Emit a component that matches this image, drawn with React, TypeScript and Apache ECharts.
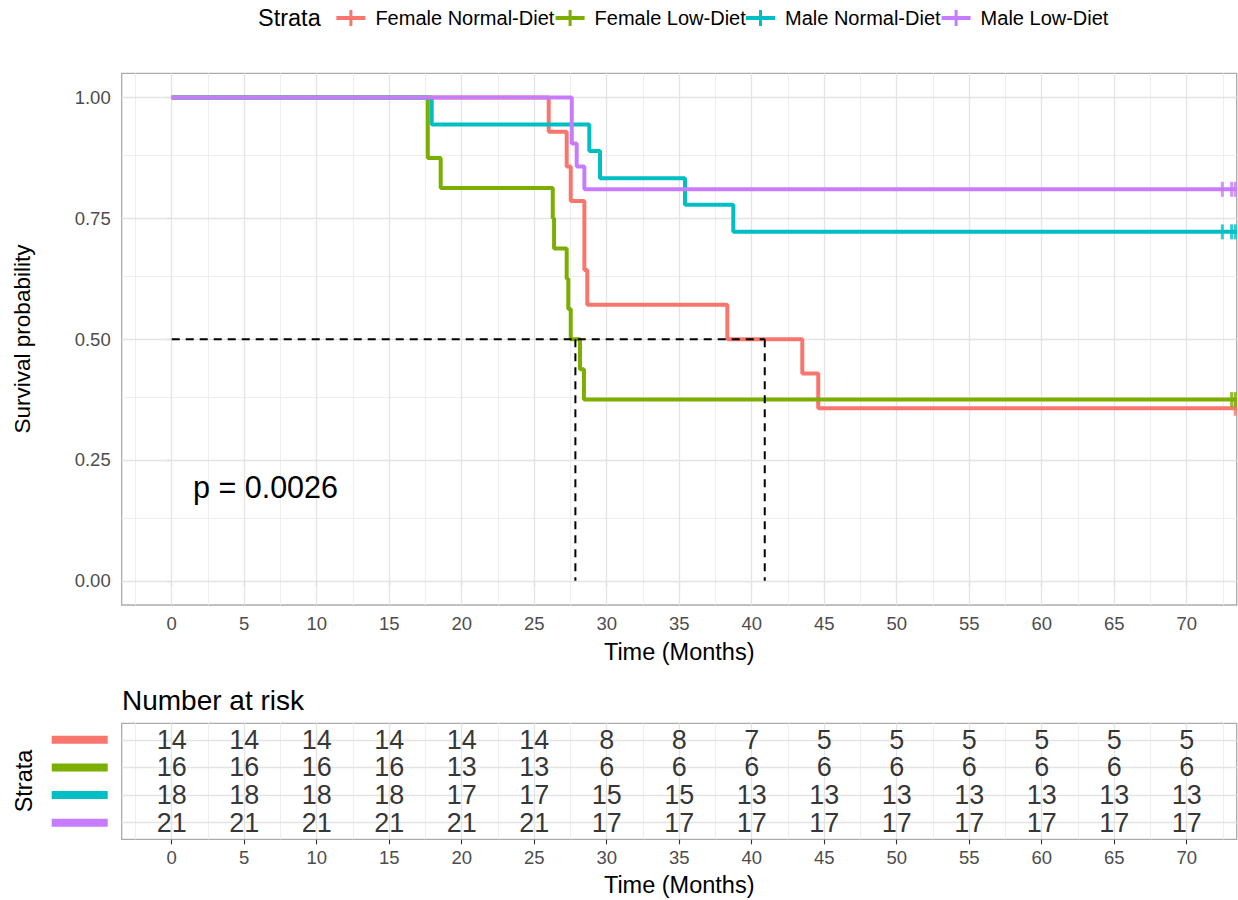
import React, { useEffect, useRef } from "react";
import * as echarts from "echarts";

// ---------- data ----------
const strata = ["Female Normal-Diet", "Female Low-Diet", "Male Normal-Diet", "Male Low-Diet"];
const colors = ["#F8766D", "#7CAE00", "#00BFC4", "#C77CFF"];

const femaleNormalTime = [0, 26.0, 27.24, 27.52, 28.46, 28.66, 38.32, 43.49, 44.59, 73.45];
const femaleNormalSurv = [1, 0.929, 0.857, 0.786, 0.643, 0.571, 0.5, 0.429, 0.357, 0.357];
const femaleLowTime = [0, 17.66, 18.55, 26.28, 26.37, 27.24, 27.35, 27.52, 28.16, 28.43, 73.45];
const femaleLowSurv = [1, 0.875, 0.8125, 0.75, 0.6875, 0.625, 0.5625, 0.5, 0.4375, 0.375, 0.375];
const maleNormalTime = [0, 17.93, 28.8, 29.54, 35.4, 38.73, 73.45];
const maleNormalSurv = [1, 0.944, 0.889, 0.833, 0.778, 0.722, 0.722];
const maleLowTime = [0, 27.59, 27.93, 28.46, 73.45];
const maleLowSurv = [1, 0.905, 0.857, 0.81, 0.81];

const censorFemaleNormal = [73.35];
const censorFemaleLow = [73.1, 73.35];
const censorMaleNormal = [72.46, 73.1, 73.35];
const censorMaleLow = [72.46, 73.1, 73.35];

const medianTimes = [27.84, 40.9];
const medianLevel = 0.5;
const pValueText = "p = 0.0026";

const xTicks = [0, 5, 10, 15, 20, 25, 30, 35, 40, 45, 50, 55, 60, 65, 70];
const yTicks = [0, 0.25, 0.5, 0.75, 1];
const xMinor = [-2.5, 2.5, 7.5, 12.5, 17.5, 22.5, 27.5, 32.5, 37.5, 42.5, 47.5, 52.5, 57.5, 62.5, 67.5, 72.5];
const yMinor = [0.125, 0.375, 0.625, 0.875];

const riskTimes = [0, 5, 10, 15, 20, 25, 30, 35, 40, 45, 50, 55, 60, 65, 70];
const riskFemaleNormal = [14, 14, 14, 14, 14, 14, 8, 8, 7, 5, 5, 5, 5, 5, 5];
const riskFemaleLow = [16, 16, 16, 16, 13, 13, 6, 6, 6, 6, 6, 6, 6, 6, 6];
const riskMaleNormal = [18, 18, 18, 18, 17, 17, 15, 15, 13, 13, 13, 13, 13, 13, 13];
const riskMaleLow = [21, 21, 21, 21, 21, 21, 17, 17, 17, 17, 17, 17, 17, 17, 17];
const riskRows = [1, 2, 3, 4];

// ---------- helpers ----------
const FONT = "Liberation Sans";
const curveTimes = [femaleNormalTime, femaleLowTime, maleNormalTime, maleLowTime];
const curveSurv = [femaleNormalSurv, femaleLowSurv, maleNormalSurv, maleLowSurv];
const censors = [censorFemaleNormal, censorFemaleLow, censorMaleNormal, censorMaleLow];
const risks = [riskFemaleNormal, riskFemaleLow, riskMaleNormal, riskMaleLow];

const GRID_L = 121.7;
const GRID_W = 1115;
const X_MIN = -3.45;
const X_MAX = 73.45;

const majorGrid = { color: "#e4e4e4", width: 1.3, type: "solid" };
const minorGrid = { color: "#eeeeee", width: 1, type: "solid" };

function gridSeries(idx: number, xs: number[], xsMinor: number[], ys: number[], ysMinor: number[], dummyY: number) {
  const data: any[] = [];
  xsMinor.forEach((v) => data.push({ xAxis: v, lineStyle: minorGrid }));
  ysMinor.forEach((v) => data.push({ yAxis: v, lineStyle: minorGrid }));
  xs.forEach((v) => data.push({ xAxis: v, lineStyle: majorGrid }));
  ys.forEach((v) => data.push({ yAxis: v, lineStyle: majorGrid }));
  return {
    type: "line",
    xAxisIndex: idx,
    yAxisIndex: idx,
    data: [[0, dummyY]],
    symbol: "none",
    showSymbol: false,
    lineStyle: { opacity: 0 },
    silent: true,
    z: 0,
    markLine: {
      silent: true,
      z: 1,
      symbol: ["none", "none"],
      label: { show: false },
      emphasis: { disabled: true },
      animation: false,
      data,
    },
  };
}

const legendIcon = "path://M0,6H13V0H16V6H29V10H16V16H13V10H0Z";
const legendLefts = [336.4, 555.6, 746, 941.6];

export default function App() {
  const ref = useRef<HTMLDivElement>(null);
  useEffect(() => {
    if (!ref.current) return;
    const chart = echarts.init(ref.current, undefined, { renderer: "svg" });

    const series: any[] = [];
    series.push(gridSeries(0, xTicks, xMinor, yTicks, yMinor, 0.5));
    series.push(gridSeries(1, xTicks, xMinor, riskRows, [], 2));

    strata.forEach((name, i) => {
      series.push({
        name,
        type: "line",
        xAxisIndex: 0,
        yAxisIndex: 0,
        step: "end",
        symbol: "none",
        showSymbol: false,
        z: 3,
        color: colors[i],
        lineStyle: { width: 4, color: colors[i] },
        data: curveTimes[i].map((t, k) => [t, curveSurv[i][k]]),
      });
    });
    strata.forEach((name, i) => {
      const last = curveSurv[i][curveSurv[i].length - 1];
      series.push({
        name,
        type: "scatter",
        xAxisIndex: 0,
        yAxisIndex: 0,
        symbol: "rect",
        symbolSize: [3, 15],
        z: 4,
        color: colors[i],
        itemStyle: { color: colors[i] },
        data: censors[i].map((t) => [t, last]),
      });
    });

    const dash = { color: "#000", width: 2, type: [8, 6] };
    series.push({
      type: "line",
      xAxisIndex: 0,
      yAxisIndex: 0,
      symbol: "none",
      z: 6,
      lineStyle: dash,
      data: [[0, medianLevel], [medianTimes[1], medianLevel]],
    });
    medianTimes.forEach((t) => {
      series.push({
        type: "line",
        xAxisIndex: 0,
        yAxisIndex: 0,
        symbol: "none",
        z: 6,
        lineStyle: dash,
        data: [[t, medianLevel], [t, 0]],
      });
    });

    strata.forEach((name, i) => {
      series.push({
        type: "scatter",
        xAxisIndex: 1,
        yAxisIndex: 1,
        symbol: "circle",
        symbolSize: 1,
        z: 5,
        itemStyle: { color: "transparent" },
        label: {
          show: true,
          position: "inside",
          fontSize: 27,
          color: "#000",
          fontFamily: FONT,
          formatter: (p: any) => String(p.value[2]),
        },
        data: riskTimes.map((t, k) => [t, riskRows[i], risks[i][k]]),
      });
    });

    const xAxisBase = (gi: number) => ({
      type: "value",
      gridIndex: gi,
      min: X_MIN,
      max: X_MAX,
      axisLine: { show: false },
      splitLine: { show: false },
      minorSplitLine: { show: false },
      axisTick: { show: true, length: 5, customValues: xTicks, lineStyle: { color: "#333", width: 1.1 } },
      axisLabel: {
        customValues: xTicks,
        margin: 9,
        fontSize: 18.5,
        color: "#4d4d4d",
        fontFamily: FONT,
        formatter: (v: number) => String(v),
      },
    });

    const rich: any = {};
    colors.forEach((c, i) => {
      rich["s" + i] = { width: 56, height: 8, lineHeight: 8, backgroundColor: c, fontSize: 1 };
    });

    const option: any = {
      animation: false,
      textStyle: { fontFamily: FONT },
      grid: [
        { left: GRID_L, top: 73.3, width: GRID_W, height: 531.7, show: true, borderColor: "#ababab", borderWidth: 1.3, backgroundColor: "#fff", outerBoundsMode: "none" },
        { left: GRID_L, top: 723.3, width: GRID_W, height: 116, show: true, borderColor: "#ababab", borderWidth: 1.3, backgroundColor: "#fff", outerBoundsMode: "none" },
      ],
      xAxis: [xAxisBase(0), xAxisBase(1)],
      yAxis: [
        {
          type: "value",
          gridIndex: 0,
          min: -0.05,
          max: 1.05,
          axisLine: { show: false },
          splitLine: { show: false },
          axisTick: { show: true, length: 5, customValues: yTicks, lineStyle: { color: "#333", width: 1.1 } },
          axisLabel: {
            customValues: yTicks,
            margin: 11,
            fontSize: 18.5,
            color: "#4d4d4d",
            fontFamily: FONT,
            formatter: (v: number) => v.toFixed(2),
          },
        },
        {
          type: "value",
          gridIndex: 1,
          min: 0.4,
          max: 4.6,
          inverse: true,
          axisLine: { show: false },
          splitLine: { show: false },
          axisTick: { show: true, length: 5, customValues: riskRows, lineStyle: { color: "#333", width: 1.1 } },
          axisLabel: {
            customValues: riskRows,
            margin: 14,
            rich,
            formatter: (v: number) => "{s" + (Math.round(v) - 1) + "| }",
          },
        },
      ],
      legend: strata.map((name, i) => ({
        data: [name],
        left: legendLefts[i],
        top: 8,
        padding: 0,
        itemGap: 0,
        itemWidth: 29,
        itemHeight: 16,
        icon: legendIcon,
        selectedMode: false,
        textStyle: { fontSize: 20, color: "#000", fontFamily: FONT, padding: [0, 0, 0, 5] },
      })),
      graphic: [
        { type: "text", z: 100, left: 258, top: 6, style: { text: "Strata", fontSize: 23.5, fill: "#000", fontFamily: FONT } },
        {
          type: "text",
          z: 100,
          x: 22,
          y: 339,
          rotation: Math.PI / 2,
          style: { text: "Survival probability", fontSize: 22.5, fill: "#000", fontFamily: FONT, align: "center", verticalAlign: "middle" },
        },
        {
          type: "text",
          z: 100,
          x: GRID_L + GRID_W / 2,
          y: 652,
          style: { text: "Time (Months)", fontSize: 23.5, fill: "#000", fontFamily: FONT, align: "center", verticalAlign: "middle" },
        },
        {
          type: "text",
          z: 100,
          x: 193,
          y: 487,
          style: { text: pValueText, fontSize: 30.5, fill: "#000", fontFamily: FONT, align: "left", verticalAlign: "middle" },
        },
        {
          type: "text",
          z: 100,
          x: 122,
          y: 700,
          style: { text: "Number at risk", fontSize: 28, fill: "#000", fontFamily: FONT, align: "left", verticalAlign: "middle" },
        },
        {
          type: "text",
          z: 100,
          x: 24,
          y: 781,
          rotation: Math.PI / 2,
          style: { text: "Strata", fontSize: 23.5, fill: "#000", fontFamily: FONT, align: "center", verticalAlign: "middle" },
        },
        {
          type: "text",
          z: 100,
          x: GRID_L + GRID_W / 2,
          y: 885,
          style: { text: "Time (Months)", fontSize: 23.5, fill: "#000", fontFamily: FONT, align: "center", verticalAlign: "middle" },
        },
      ],
      series,
    };
    chart.setOption(option);
    return () => chart.dispose();
  }, []);

  return (
    <div
      ref={ref}
      style={{ position: "absolute", left: 0, top: 0, width: 1238, height: 900, background: "#fff" }}
    />
  );
}
